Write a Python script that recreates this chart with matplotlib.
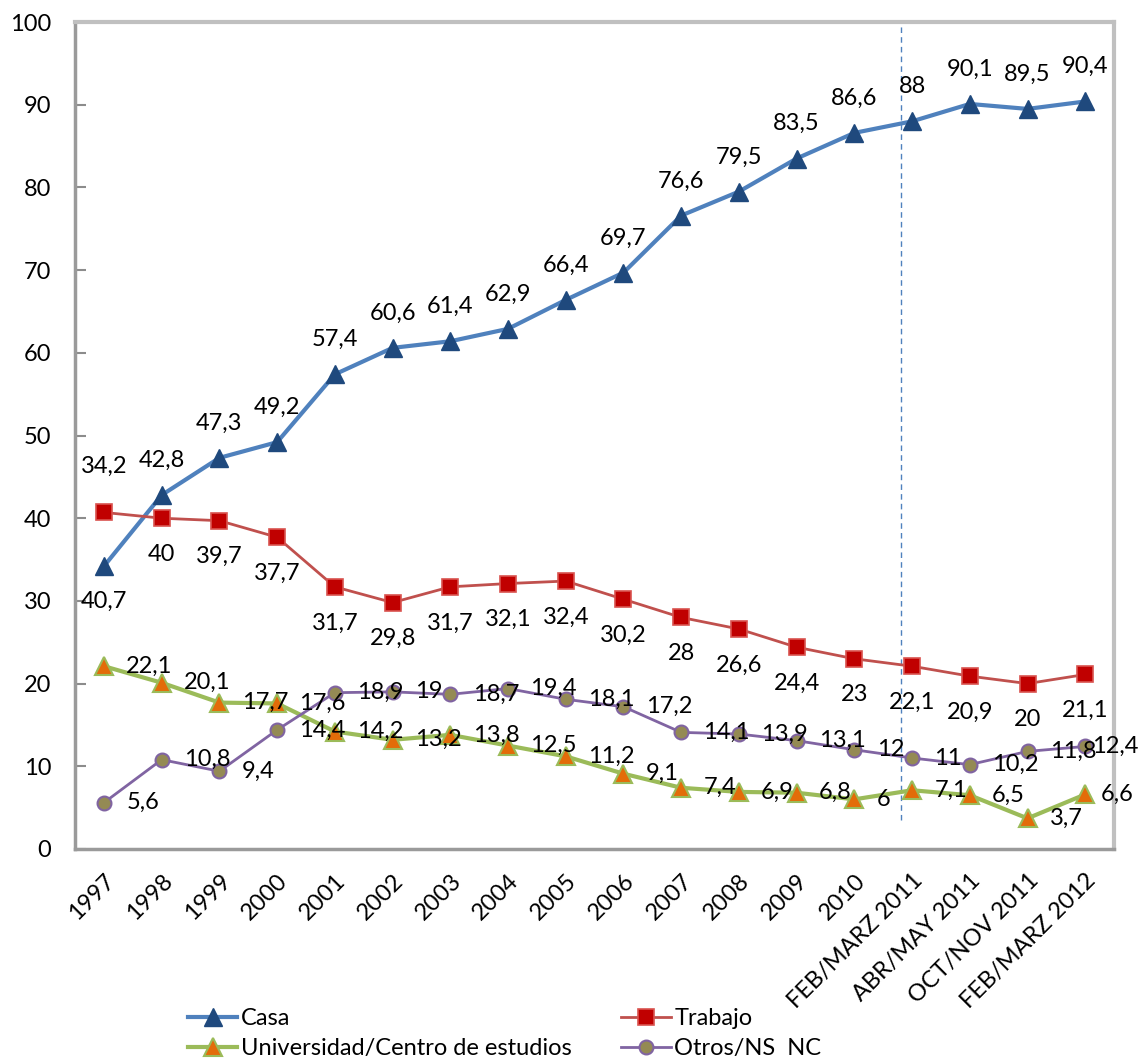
import matplotlib
matplotlib.use("Agg")
import matplotlib.pyplot as plt

plt.rcParams['font.family'] = ['Lato', 'DejaVu Sans']

categories = ["1997", "1998", "1999", "2000", "2001", "2002", "2003", "2004",
              "2005", "2006", "2007", "2008", "2009", "2010",
              "FEB/MARZ 2011", "ABR/MAY 2011", "OCT/NOV 2011", "FEB/MARZ 2012"]

casa = [34.2, 42.8, 47.3, 49.2, 57.4, 60.6, 61.4, 62.9, 66.4, 69.7, 76.6,
        79.5, 83.5, 86.6, 88, 90.1, 89.5, 90.4]
trabajo = [40.7, 40, 39.7, 37.7, 31.7, 29.8, 31.7, 32.1, 32.4, 30.2, 28,
           26.6, 24.4, 23, 22.1, 20.9, 20, 21.1]
universidad = [22.1, 20.1, 17.7, 17.6, 14.2, 13.2, 13.8, 12.5, 11.2, 9.1,
               7.4, 6.9, 6.8, 6, 7.1, 6.5, 3.7, 6.6]
otros = [5.6, 10.8, 9.4, 14.4, 18.9, 19, 18.7, 19.4, 18.1, 17.2, 14.1, 13.9,
         13.1, 12, 11, 10.2, 11.8, 12.4]

x = list(range(len(categories)))


def fmt(v):
    s = f"{v:g}"
    return s.replace(".", ",")


fig = plt.figure(figsize=(11.38, 10.62), dpi=100)
ax = fig.add_axes([0.066, 0.2006, 0.913, 0.7786])

l_casa, = ax.plot(x, casa, color="#4F81BD", lw=3, marker="^", ms=13,
                  mfc="#1F497D", mec="#1F497D", label="Casa", zorder=4)
l_trab, = ax.plot(x, trabajo, color="#C0504D", lw=2.0, marker="s", ms=12,
                  mfc="#C00000", mec="#D9534F", mew=1.2, label="Trabajo",
                  zorder=4)
l_univ, = ax.plot(x, universidad, color="#9BBB59", lw=3, marker="^", ms=13,
                  mfc="#E36C09", mec="#9BBB59", mew=1.5,
                  label="Universidad/Centro de estudios", zorder=4)
l_otros, = ax.plot(x, otros, color="#8064A2", lw=2.0, marker="o", ms=10,
                   mfc="#948A54", mec="#8064A2", mew=1.5,
                   label="Otros/NS  NC", zorder=4)

fs = 17
last = len(x) - 1
# value labels: Casa above, Trabajo below, the other two to the right
for i, v in enumerate(casa):
    dy = 72 if i == 0 else 25
    ax.annotate(fmt(v), (i, v), xytext=(0, dy), textcoords="offset points",
                ha="center", va="center", fontsize=fs, zorder=5)
for i, v in enumerate(trabajo):
    dy = -64 if i == 0 else -26
    ax.annotate(fmt(v), (i, v), xytext=(0, dy), textcoords="offset points",
                ha="center", va="center", fontsize=fs, zorder=5)
for series, end_dx in ((universidad, 11), (otros, 5)):
    for i, v in enumerate(series):
        dx = end_dx if i == last else 16
        ax.annotate(fmt(v), (i, v), xytext=(dx, 0), textcoords="offset points",
                    ha="left", va="center", fontsize=fs, zorder=5)

# separator before the 2011 waves
ax.axvline(13.8, ymin=0.035, ymax=1, color="#4F81BD", lw=1, ls=(0, (4, 3)),
           zorder=2)

ax.set_xlim(-0.5, 17.5)
ax.set_ylim(0, 100)
ax.set_yticks(range(0, 101, 10))
ax.set_xticks(x)
ax.set_xticklabels(categories, rotation=45, ha="right",
                   rotation_mode="anchor", fontsize=fs)
ax.tick_params(axis="y", direction="in", length=8, width=1.5,
               color="#8C8C8C", pad=17, labelsize=fs)
ax.tick_params(axis="x", length=0, pad=15)

for side in ("left", "bottom"):
    ax.spines[side].set_color("#9A9A9A")
    ax.spines[side].set_linewidth(2.5)
for side in ("top", "right"):
    ax.spines[side].set_color("#C0C0C0")
    ax.spines[side].set_linewidth(3)

# row-wise order: Casa/Trabajo on top, Universidad/Otros below
fig.legend([l_casa, l_univ, l_trab, l_otros],
           ["Casa", "Universidad/Centro de estudios", "Trabajo", "Otros/NS  NC"],
           loc="upper left", bbox_to_anchor=(0.165, 0.051), ncol=2,
           frameon=False, fontsize=fs, handlelength=2.1, handletextpad=0.15,
           columnspacing=2.1, labelspacing=0.4, borderpad=0,
           borderaxespad=0)

fig.savefig("out.png", dpi=100)
